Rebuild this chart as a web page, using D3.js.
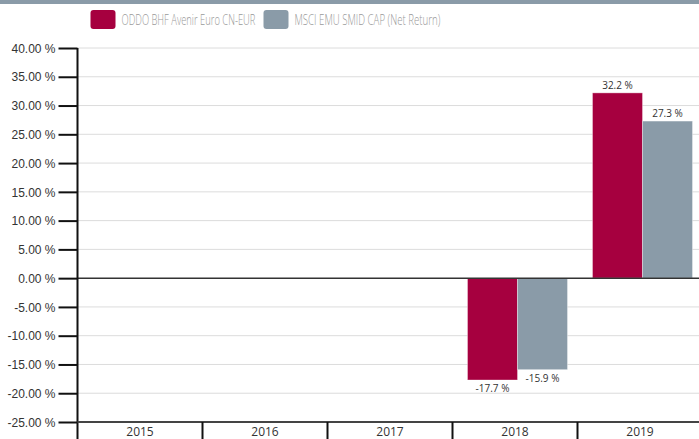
<!DOCTYPE html>
<html>
<head>
<meta charset="utf-8">
<script src="https://cdn.jsdelivr.net/npm/d3@7"></script>
<style>
  body { margin: 0; background: #fff; }
  svg { display: block; font-family: "Open Sans", sans-serif; }
</style>
</head>
<body>
<div id="chart"></div>
<script>
// Chart data
const years = ['2015', '2016', '2017', '2018', '2019'];
const seriesNames = ['ODDO BHF Avenir Euro CN-EUR', 'MSCI EMU SMID CAP (Net Return)'];
const fundValues = [null, null, null, -17.7, 32.2];
const benchValues = [null, null, null, -15.9, 27.3];
const yTicks = [40, 35, 30, 25, 20, 15, 10, 5, 0, -5, -10, -15, -20, -25];
const colors = ['#a6003f', '#8a9ba8'];

const width = 699, height = 439;
const margin = { top: 48, right: -3, bottom: 17, left: 77.5 };

const svg = d3.select('#chart').append('svg')
    .attr('width', width)
    .attr('height', height);

// Top band
svg.append('rect')
    .attr('x', 0).attr('y', 0)
    .attr('width', width).attr('height', 4)
    .attr('fill', '#8a9ba8');

// Legend (condensed look: squeeze text horizontally to its width in the reference)
const legendX = [90.5, 263.5];
const legendLen = [134, 146];
seriesNames.forEach((name, i) => {
    svg.append('rect')
        .attr('x', legendX[i]).attr('y', 10)
        .attr('width', 25).attr('height', 19)
        .attr('rx', 3)
        .attr('fill', colors[i]);
    const t = svg.append('text')
        .attr('x', 0)
        .attr('y', 0)
        .style('font-size', '14.5px')
        .style('font-weight', 300)
        .style('fill', '#999')
        .text(name);
    const natural = t.node().getComputedTextLength();
    const sx = legendLen[i] / natural;
    t.attr('transform', `translate(${legendX[i] + 31},24.5) scale(${sx},1)`);
});

const plotRight = width - margin.right;
const plotBottom = height - margin.bottom;

const xScale = d3.scaleBand()
    .domain(years)
    .range([margin.left, margin.left + 125 * years.length]);

const xInner = d3.scaleBand()
    .domain([0, 1])
    .range([15, 115]);

const yScale = d3.scaleLinear()
    .domain([-25, 40])
    .range([plotBottom, margin.top]);

// Grid lines
svg.append('g')
    .selectAll('line')
    .data(yTicks.filter(d => d !== 0 && d !== -25))
    .enter().append('line')
    .attr('x1', margin.left).attr('x2', plotRight)
    .attr('y1', d => yScale(d)).attr('y2', d => yScale(d))
    .style('stroke', '#dcdcdc')
    .style('stroke-width', 1);

// Y axis
const yAxis = d3.axisLeft(yScale)
    .tickValues(yTicks)
    .tickSize(19)
    .tickPadding(3)
    .tickFormat(d => d.toFixed(2) + ' %');

const yAxisGroup = svg.append('g')
    .attr('transform', `translate(${margin.left},0)`)
    .call(yAxis);
yAxisGroup.select('.domain').remove();
yAxisGroup.selectAll('.tick line').style('stroke', '#111').style('stroke-width', 2);
yAxisGroup.selectAll('text')
    .style('font-size', '12px')
    .style('fill', '#333')
    .attr('dy', '0.35em');

// Bars
const groups = [fundValues, benchValues];
groups.forEach((vals, i) => {
    svg.append('g')
        .selectAll('rect')
        .data(years.map((y, j) => ({ year: y, value: vals[j] })).filter(d => d.value !== null))
        .enter().append('rect')
        .attr('x', d => xScale(d.year) + xInner(i))
        .attr('width', xInner.bandwidth())
        .attr('y', d => yScale(Math.max(0, d.value)))
        .attr('height', d => Math.abs(yScale(d.value) - yScale(0)))
        .attr('fill', colors[i])
        .style('stroke', 'rgba(255,255,255,0.35)')
        .style('stroke-width', 1);

    svg.append('g')
        .selectAll('text')
        .data(years.map((y, j) => ({ year: y, value: vals[j] })).filter(d => d.value !== null))
        .enter().append('text')
        .attr('x', d => xScale(d.year) + xInner(i) + xInner.bandwidth() / 2)
        .attr('y', d => d.value >= 0 ? yScale(d.value) - 4 : yScale(d.value) + 12)
        .attr('text-anchor', 'middle')
        .style('font-size', '10px')
        .style('fill', '#333')
        .text(d => d.value.toFixed(1) + ' %');
});

// Zero line
svg.append('line')
    .attr('x1', margin.left).attr('x2', plotRight)
    .attr('y1', yScale(0)).attr('y2', yScale(0))
    .style('stroke', '#333')
    .style('stroke-width', 1.5);

// Y axis line
svg.append('line')
    .attr('x1', margin.left).attr('x2', margin.left)
    .attr('y1', margin.top).attr('y2', height)
    .style('stroke', '#111')
    .style('stroke-width', 2);

// X axis
const xAxisGroup = svg.append('g')
    .attr('transform', `translate(0,${plotBottom})`);

xAxisGroup.append('line')
    .attr('x1', margin.left).attr('x2', plotRight)
    .style('stroke', '#444')
    .style('stroke-width', 2);

xAxisGroup.selectAll('.sep')
    .data(years.slice(1))
    .enter().append('line')
    .attr('class', 'sep')
    .attr('x1', d => xScale(d)).attr('x2', d => xScale(d))
    .attr('y1', 0).attr('y2', margin.bottom)
    .style('stroke', '#111')
    .style('stroke-width', 2);

xAxisGroup.selectAll('.lbl')
    .data(years)
    .enter().append('text')
    .attr('class', 'lbl')
    .attr('x', d => xScale(d) + xScale.bandwidth() / 2)
    .attr('y', 14)
    .attr('text-anchor', 'middle')
    .style('font-size', '12px')
    .style('fill', '#333')
    .text(d => d);
</script>
</body>
</html>
